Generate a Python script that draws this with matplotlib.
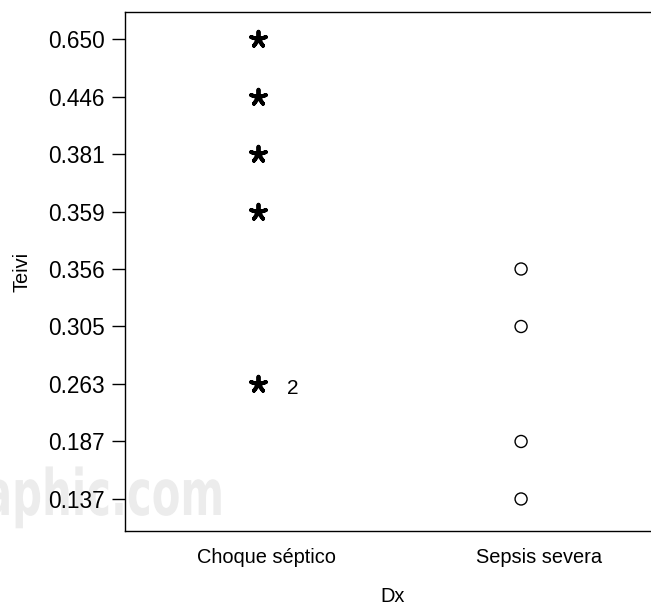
import matplotlib
matplotlib.use("Agg")
import matplotlib.pyplot as plt
import matplotlib.transforms as mtransforms
from matplotlib.patheffects import AbstractPathEffect

# ---- data ----
teivi_levels = ["0.137", "0.187", "0.263", "0.305", "0.356", "0.359", "0.381", "0.446", "0.650"]
dx_categories = ["Choque séptico", "Sepsis severa"]
choque_values = ["0.650", "0.446", "0.381", "0.359", "0.263"]
choque_counts = [1, 1, 1, 1, 2]
sepsis_values = ["0.356", "0.305", "0.187", "0.137"]
sepsis_counts = [1, 1, 1, 1]

plt.rcParams['font.family'] = ['Liberation Sans', 'DejaVu Sans']


class Squeeze(AbstractPathEffect):
    """Horizontally condense text glyphs about a fixed x (display pixels)."""
    def __init__(self, sx, x0):
        super().__init__()
        self.sx = sx
        self.x0 = x0

    def draw_path(self, renderer, gc, tpath, affine, rgbFace=None):
        aff = affine + mtransforms.Affine2D().translate(-self.x0, 0).scale(self.sx, 1).translate(self.x0, 0)
        renderer.draw_path(gc, tpath, aff, rgbFace)


fig = plt.figure(figsize=(6.51, 6.07), dpi=100)
ax = fig.add_axes([125/651, 76/607, 1 - 125/651, (531 - 12)/607])
ax.set_facecolor('none')

# watermark behind
fig.text(224/651, (607 - 515)/607, "aphic.com", ha='right', va='baseline', fontsize=46,
         fontweight='bold', family='DejaVu Sans', color='#ececec', zorder=-5,
         path_effects=[Squeeze(0.655, 224)])

idx = {v: i for i, v in enumerate(teivi_levels)}

cy = [idx[v] for v in choque_values]
sy = [idx[v] for v in sepsis_values]
ax.scatter([0]*len(cy), cy, marker=(5, 2, 0), s=125, c='black', linewidths=2.8, zorder=3)
ax.scatter([1]*len(sy), sy, marker='o', s=75, facecolors='none', edgecolors='black', linewidths=1.0, zorder=3)

for v, n in zip(choque_values, choque_counts):
    if n > 1:
        ax.annotate(str(n), (0, idx[v]), xytext=(29, -5), textcoords='offset pixels',
                    ha='left', va='center', fontsize=15)
for v, n in zip(sepsis_values, sepsis_counts):
    if n > 1:
        ax.annotate(str(n), (1, idx[v]), xytext=(29, -5), textcoords='offset pixels',
                    ha='left', va='center', fontsize=15)

ax.set_xlim(-0.506, 1.494)
ax.set_ylim(-0.557, 8.47)
ax.set_yticks(range(len(teivi_levels)))
ax.set_yticklabels(teivi_levels, fontsize=16.3)
ax.set_xticks([0, 1])
ax.set_xticklabels(dx_categories, fontsize=14.4)
ax.tick_params(axis='y', length=9.4, width=1.0, pad=5, direction='out')
ax.tick_params(axis='x', length=0, pad=12)

offsets = [8, 18]
for lab, off in zip(ax.get_xticklabels(), offsets):
    lab.set_transform(lab.get_transform() + mtransforms.ScaledTranslation(off/100, 0, fig.dpi_scale_trans))

ax.spines['right'].set_visible(False)
for s in ['left', 'top', 'bottom']:
    ax.spines[s].set_linewidth(1.0)

ax.set_ylabel("Teivi", fontsize=14.4, labelpad=12)
ax.set_xlabel("Dx", fontsize=14.4, labelpad=15)
ax.xaxis.label.set_x(0.5 + 5/526)

fig.savefig("out.png", dpi=100)
